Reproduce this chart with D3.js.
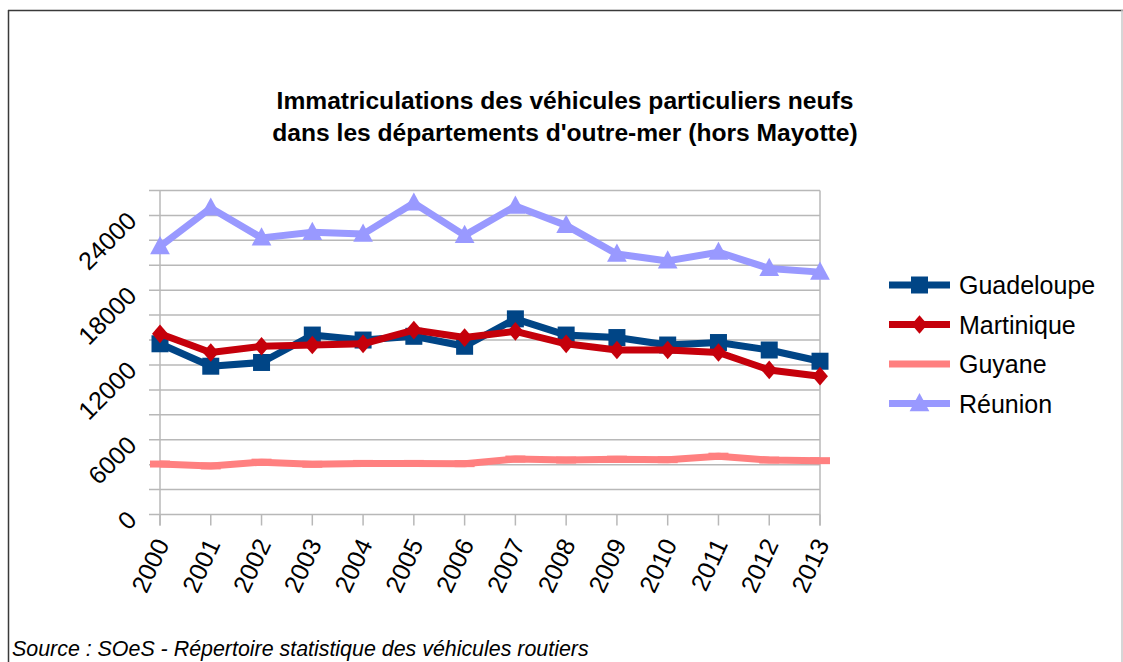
<!DOCTYPE html>
<html>
<head>
<meta charset="utf-8">
<script src="https://cdn.jsdelivr.net/npm/d3@7"></script>
<style>
  html, body { margin: 0; padding: 0; background: #fff; }
  svg { display: block; font-family: "Liberation Sans", Arial, sans-serif; }
</style>
</head>
<body>
<svg id="chart" width="1123" height="662"></svg>
<script>
const years = [2000, 2001, 2002, 2003, 2004, 2005, 2006, 2007, 2008, 2009, 2010, 2011, 2012, 2013];
const guadeloupe = [13700, 11900, 12200, 14400, 14000, 14300, 13500, 15700, 14400, 14200, 13600, 13800, 13200, 12300];
const martinique = [14500, 13000, 13500, 13600, 13700, 14800, 14200, 14700, 13700, 13200, 13200, 13000, 11600, 11100];
const guyane = [4050, 3900, 4200, 4030, 4100, 4100, 4080, 4450, 4370, 4440, 4400, 4680, 4370, 4320];
const reunion = [21500, 24600, 22200, 22650, 22500, 25000, 22400, 24750, 23200, 20900, 20350, 21050, 19750, 19450];
const yTicks = [0, 6000, 12000, 18000, 24000];
const yGrid = d3.range(0, 26001, 2000);
const titleLines = ["Immatriculations des véhicules particuliers neufs", "dans les départements d'outre-mer (hors Mayotte)"];
const sourceText = "Source : SOeS - Répertoire statistique des véhicules routiers";

const series = [
  { name: "Guadeloupe", values: guadeloupe, color: "#004586", marker: "square" },
  { name: "Martinique", values: martinique, color: "#c5000b", marker: "diamond" },
  { name: "Guyane", values: guyane, color: "#ff8080", marker: "bar" },
  { name: "Réunion", values: reunion, color: "#9999ff", marker: "triangle" }
];

const svg = d3.select("#chart");
svg.append("rect").attr("width", 1123).attr("height", 662).attr("fill", "#fff");

// frame
svg.append("line").attr("x1", 8.5).attr("x2", 8.5).attr("y1", 10).attr("y2", 662).attr("stroke", "#3a3a3a").attr("stroke-width", 1.5);
svg.append("line").attr("x1", 8).attr("x2", 1123).attr("y1", 10.5).attr("y2", 10.5).attr("stroke", "#3a3a3a").attr("stroke-width", 1.5);
svg.append("line").attr("x1", 1122).attr("x2", 1122).attr("y1", 10).attr("y2", 662).attr("stroke", "#c8c8c8").attr("stroke-width", 1.5);

const x = d3.scaleLinear().domain([2000, 2013]).range([160, 820]);
const y = d3.scaleLinear().domain([0, 26000]).range([514.5, 190.5]);

// horizontal gridlines
const g = svg.append("g");
g.selectAll("line.grid").data(yGrid).join("line")
  .attr("class", "grid")
  .attr("x1", 149).attr("x2", 820)
  .attr("y1", d => y(d)).attr("y2", d => y(d))
  .attr("stroke", "#b8b8b8").attr("stroke-width", 1.5);
// vertical axis lines
g.append("line").attr("x1", x(2000)).attr("x2", x(2000)).attr("y1", y(26000)).attr("y2", y(0) + 11)
  .attr("stroke", "#b8b8b8").attr("stroke-width", 1.5);
g.append("line").attr("x1", x(2013)).attr("x2", x(2013)).attr("y1", y(26000)).attr("y2", y(0) + 11)
  .attr("stroke", "#b8b8b8").attr("stroke-width", 1.5);
// x ticks
g.selectAll("line.xt").data(years).join("line")
  .attr("class", "xt")
  .attr("x1", d => x(d)).attr("x2", d => x(d))
  .attr("y1", y(0)).attr("y2", y(0) + 11)
  .attr("stroke", "#b8b8b8").attr("stroke-width", 1.5);

// y labels
svg.selectAll("text.yl").data(yTicks).join("text")
  .attr("class", "yl")
  .attr("transform", d => `translate(138,${y(d) + 7}) rotate(-45)`)
  .attr("text-anchor", "end")
  .attr("font-size", 25)
  .attr("fill", "#000")
  .text(d => d);

// x labels
svg.selectAll("text.xl").data(years).join("text")
  .attr("class", "xl")
  .attr("transform", d => `translate(${x(d) + 10},544) rotate(-65)`)
  .attr("text-anchor", "end")
  .attr("font-size", 25)
  .attr("fill", "#000")
  .text(d => d);

// marker path generator
function markerPath(type, s) {
  if (type === "square") return `M${-s/2},${-s/2}h${s}v${s}h${-s}Z`;
  if (type === "diamond") { const r = s * 0.55; return `M0,${-r}L${r*0.85},0L0,${r}L${-r*0.85},0Z`; }
  if (type === "triangle") { const h = s * 1.0; return `M0,${-h*0.62}L${s*0.58},${h*0.45}L${-s*0.58},${h*0.45}Z`; }
  if (type === "bar") return `M-10,-3.5h20v7h-20Z`;
  return "";
}

const line = d3.line().x((d, i) => x(years[i])).y(d => y(d));
series.forEach(s => {
  const sg = svg.append("g");
  sg.append("path").datum(s.values)
    .attr("d", line)
    .attr("fill", "none")
    .attr("stroke", s.color)
    .attr("stroke-width", 7)
    .attr("stroke-linejoin", "round");
  sg.selectAll("path.m").data(s.values).join("path")
    .attr("class", "m")
    .attr("transform", (d, i) => `translate(${x(years[i])},${y(d)})`)
    .attr("d", markerPath(s.marker, 17))
    .attr("fill", s.color);
});

// legend
const lg = svg.append("g");
series.forEach((s, i) => {
  const cy = 285 + i * 39.5;
  lg.append("line").attr("x1", 889).attr("x2", 950).attr("y1", cy).attr("y2", cy)
    .attr("stroke", s.color).attr("stroke-width", 7);
  if (s.marker !== "bar") {
    lg.append("path").attr("transform", `translate(919.5,${cy})`).attr("d", markerPath(s.marker, 17)).attr("fill", s.color);
  }
  lg.append("text").attr("x", 959).attr("y", cy + 9).attr("font-size", 25).attr("fill", "#000").text(s.name);
});

// title
svg.selectAll("text.title").data(titleLines).join("text")
  .attr("class", "title")
  .attr("x", 565).attr("y", (d, i) => 109 + i * 32)
  .attr("text-anchor", "middle")
  .attr("font-size", 24.6).attr("font-weight", "bold").attr("fill", "#000")
  .text(d => d);

// source
svg.append("text").attr("x", 12).attr("y", 656)
  .attr("font-size", 21.4).attr("font-style", "italic").attr("fill", "#000")
  .text(sourceText);
</script>
</body>
</html>
